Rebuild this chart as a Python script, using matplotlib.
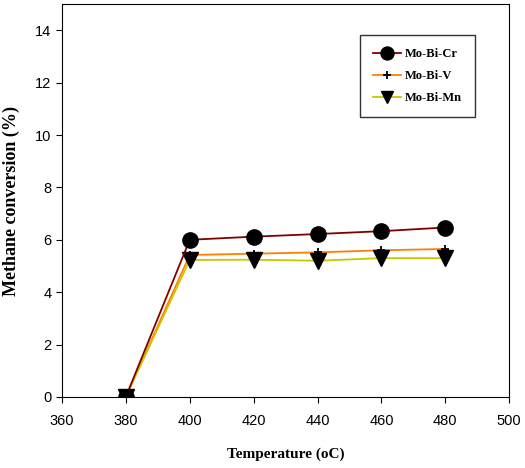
import matplotlib
matplotlib.use("Agg")
import matplotlib.pyplot as plt

temps = [380, 400, 420, 440, 460, 480]
mo_bi_cr = [0.0, 6.0, 6.12, 6.22, 6.33, 6.47]
mo_bi_v = [0.0, 5.42, 5.47, 5.52, 5.6, 5.65]
mo_bi_mn = [0.0, 5.23, 5.24, 5.2, 5.3, 5.3]

fig = plt.figure(figsize=(5.25, 4.68), dpi=100)
ax = fig.add_axes([0.118, 0.152, 0.852, 0.839])

ax.plot(temps, mo_bi_cr, color="#800000", lw=1.3, marker="o", ms=11,
        mfc="black", mec="black", label="Mo-Bi-Cr", zorder=3)
ax.plot(temps, mo_bi_v, color="#FF8000", lw=1.3, marker="+", ms=6,
        mec="black", mew=1.3, label="Mo-Bi-V", zorder=2)
ax.plot(temps, mo_bi_mn, color="#C8C800", lw=1.3, marker="v", ms=11,
        mfc="black", mec="black", label="Mo-Bi-Mn", zorder=2)

ax.set_xlim(360, 500)
ax.set_ylim(0, 15)
ax.set_xticks(range(360, 501, 20))
ax.set_yticks(range(0, 15, 2))
ax.tick_params(direction="out", length=4, labelsize=10.5)
ax.tick_params(axis="x", pad=8)
for lab in ax.get_xticklabels() + ax.get_yticklabels():
    lab.set_family("Liberation Sans")

ax.set_xlabel("Temperature (oC)", family="Liberation Serif", fontweight="bold",
              fontsize=11)
ax.xaxis.set_label_coords(0.5, -0.128)
ax.set_ylabel("Methane conversion (%)", family="Liberation Serif", fontweight="bold",
              fontsize=13)
ax.yaxis.set_label_coords(-0.094, 0.5)

leg = ax.legend(loc="upper left", bbox_to_anchor=(0.667, 0.921), borderaxespad=0,
                fancybox=False, edgecolor="black",
                prop={"family": "Liberation Serif", "weight": "bold", "size": 9},
                handlelength=2.2, handletextpad=0.3, borderpad=1.05, labelspacing=0.8,
                markerscale=0.85)
leg.get_frame().set_linewidth(1.0)

fig.savefig("out.png", dpi=100)
